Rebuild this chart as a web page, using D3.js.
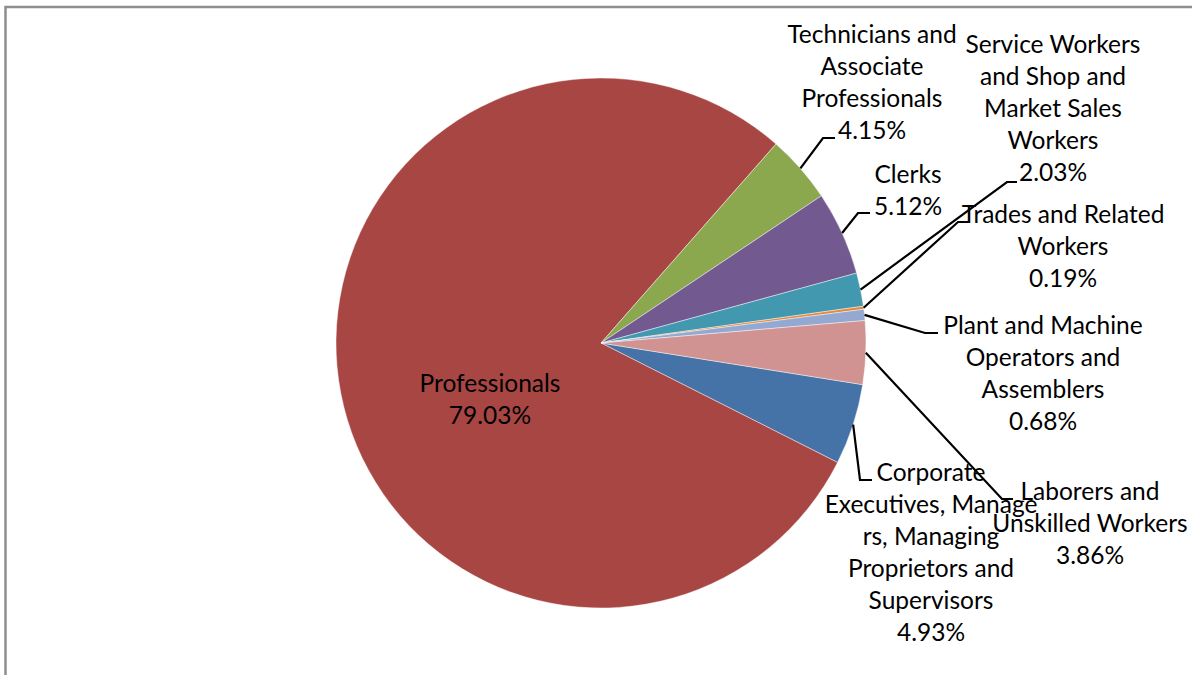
<!DOCTYPE html>
<html>
<head>
<meta charset="utf-8">
<script src="https://cdn.jsdelivr.net/npm/d3@7"></script>
<style>
  body { margin: 0; background: #fff; }
  svg { display: block; }
  text { font-family: Lato, "Open Sans", sans-serif; fill: #000; }
</style>
</head>
<body>
<svg id="chart" width="1192" height="675"></svg>
<script>
// ---- data (series order as in the source sheet) ----
const categories = [
  'Corporate Executives, Managers, Managing Proprietors and Supervisors',
  'Professionals',
  'Technicians and Associate Professionals',
  'Clerks',
  'Service Workers and Shop and Market Sales Workers',
  'Trades and Related Workers',
  'Plant and Machine Operators and Assemblers',
  'Laborers and Unskilled Workers'
];
const shares = [4.93, 79.03, 4.15, 5.12, 2.03, 0.19, 0.68, 3.86];
const colors = ['#4572a7', '#a84644', '#8ba84f', '#725a90', '#4198af', '#e8883a', '#94a9d2', '#d09392'];

// wrapped label text, the way the data labels break
const labelLines = [
  ['Corporate', 'Executives, Manage', 'rs, Managing', 'Proprietors and', 'Supervisors'],
  ['Professionals'],
  ['Technicians and', 'Associate', 'Professionals'],
  ['Clerks'],
  ['Service Workers', 'and Shop and', 'Market Sales', 'Workers'],
  ['Trades and Related', 'Workers'],
  ['Plant and Machine', 'Operators and', 'Assemblers'],
  ['Laborers and', 'Unskilled Workers']
];

// label placement: text centre / first line, and leader elbow (null = label inside slice)
const labelLayout = [
  { x: 931,  y: 472, elbow: [860, 480], end: 872 },
  { x: 490,  y: 383, elbow: null },
  { x: 872,  y: 34,  elbow: [823, 138], end: 835 },
  { x: 908,  y: 174, elbow: [858, 213], end: 870 },
  { x: 1053, y: 44,  elbow: [1007, 182], end: 1017 },
  { x: 1063, y: 214, elbow: [958, 222], end: 968 },
  { x: 1043, y: 325, elbow: [925, 333], end: 938 },
  { x: 1090, y: 491, elbow: [1002, 499], end: 1013 }
];

const W = 1192, H = 675;
const cx = 601, cy = 343, R = 265;
const lineH = 32;
const startDeg = 99.04; // first slice starts here, clockwise from 12 o'clock

const svg = d3.select('#chart');

// chart frame (only the left and top edges fall inside the capture)
svg.append('path')
  .attr('d', `M5.5,${H} V7 H${W}`)
  .attr('fill', 'none').attr('stroke', '#8e8e8e').attr('stroke-width', 2.5);

const rows = categories.map((c, i) => ({ name: c, value: shares[i], i }));
const start = startDeg * Math.PI / 180;
const pie = d3.pie().sort(null).value(d => d.value)
  .startAngle(start).endAngle(start + 2 * Math.PI);
const arcs = pie(rows);

const arc = d3.arc().innerRadius(0).outerRadius(R);

const g = svg.append('g').attr('transform', `translate(${cx},${cy})`);
g.selectAll('path.slice')
  .data(arcs)
  .join('path')
    .attr('class', 'slice')
    .attr('d', arc)
    .attr('fill', d => colors[d.data.i])
    .attr('stroke', 'rgba(255,255,255,0.55)')
    .attr('stroke-width', 0.8);

// leader lines: slice edge -> elbow -> short horizontal
svg.append('g').selectAll('path.leader')
  .data(arcs.filter(d => labelLayout[d.data.i].elbow))
  .join('path')
    .attr('class', 'leader')
    .attr('fill', 'none').attr('stroke', '#000').attr('stroke-width', 2.2)
    .attr('d', d => {
      const L = labelLayout[d.data.i];
      const mid = (d.startAngle + d.endAngle) / 2;
      const p = [cx + R * Math.sin(mid), cy - R * Math.cos(mid)];
      return `M${p[0]},${p[1]} L${L.elbow[0]},${L.elbow[1]} H${L.end}`;
    });

// data labels
const labels = svg.append('g').selectAll('text.lbl')
  .data(rows)
  .join('text')
    .attr('class', 'lbl')
    .attr('text-anchor', 'middle')
    .attr('font-size', 24.5);

labels.each(function(d) {
  const L = labelLayout[d.i];
  const lines = labelLines[d.i].concat([d3.format('.2f')(d.value) + '%']);
  d3.select(this).selectAll('tspan')
    .data(lines)
    .join('tspan')
      .attr('x', L.x)
      .attr('y', (t, k) => L.y + k * lineH)
      .attr('dy', '0.35em')
      .text(t => t);
});
</script>
</body>
</html>
